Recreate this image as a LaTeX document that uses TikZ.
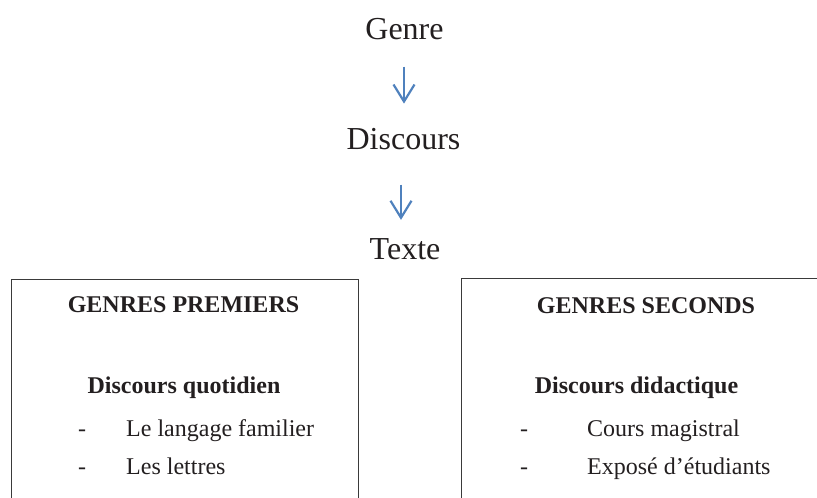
\documentclass[tikz,border=0pt]{standalone}
\usepackage{fontspec}
\setmainfont{Liberation Serif}
\usetikzlibrary{arrows.meta}
\definecolor{txt}{HTML}{231F20}
\definecolor{arrblue}{HTML}{4F81BD}
\definecolor{boxline}{HTML}{3A3A3A}
\tikzset{
  big/.style={font=\fontsize{32}{38}\selectfont, text=txt, inner sep=0pt, anchor=base},
  head/.style={font=\fontsize{24}{29}\selectfont\bfseries, text=txt, inner sep=0pt, anchor=base},
  item/.style={font=\fontsize{24}{29}\selectfont, text=txt, inner sep=0pt, anchor=base west},
  dashmark/.style={font=\fontsize{24}{29}\selectfont, text=txt, inner sep=0pt, anchor=base},
  flow/.style={draw=arrblue, line width=2.2pt, -{Straight Barb[length=17pt, width=21pt, line width=2.2pt]}},
  frame/.style={draw=boxline, line width=1pt}
}
\begin{document}
\begin{tikzpicture}[x=1pt, y=-1pt]
\useasboundingbox (0,0) rectangle (817,498);
% top column
\node[big] (genre) at (404.5,39) {Genre};
\node[big] (discours) at (403.5,149) {Discours};
\node[big] (texte) at (405,259) {Texte};
\draw[flow, shorten <=27pt, shorten >=24pt] (genre.south -| 404,0) -- (discours.north -| 404,0);
\draw[flow, shorten <=35pt, shorten >=18pt] (discours.south -| 401,0) -- (texte.north -| 401,0);
% boxes
\draw[frame] (11,498) -- (11,279) -- (358,279) -- (358,498);
\draw[frame] (461,498) -- (461,278) -- (817,278);
% left box content
\node[head] (gp) at (183.5,312) {GENRES PREMIERS};
\node[head] (dq) at (184,393) {Discours quotidien};
\node[dashmark] (d1) at (82,436) {-};
\node[item] (l1) at (126,436) {Le langage familier};
\node[dashmark] (d2) at (82,474) {-};
\node[item] (l2) at (126,474) {Les lettres};
% right box content
\node[head] (gs) at (646,313) {GENRES SECONDS};
\node[head] (dd) at (636.5,393) {Discours didactique};
\node[dashmark] (d3) at (524,436) {-};
\node[item] (r1) at (587,436) {Cours magistral};
\node[dashmark] (d4) at (524,474) {-};
\node[item] (r2) at (587,474) {Exposé d’étudiants};
\end{tikzpicture}
\end{document}
